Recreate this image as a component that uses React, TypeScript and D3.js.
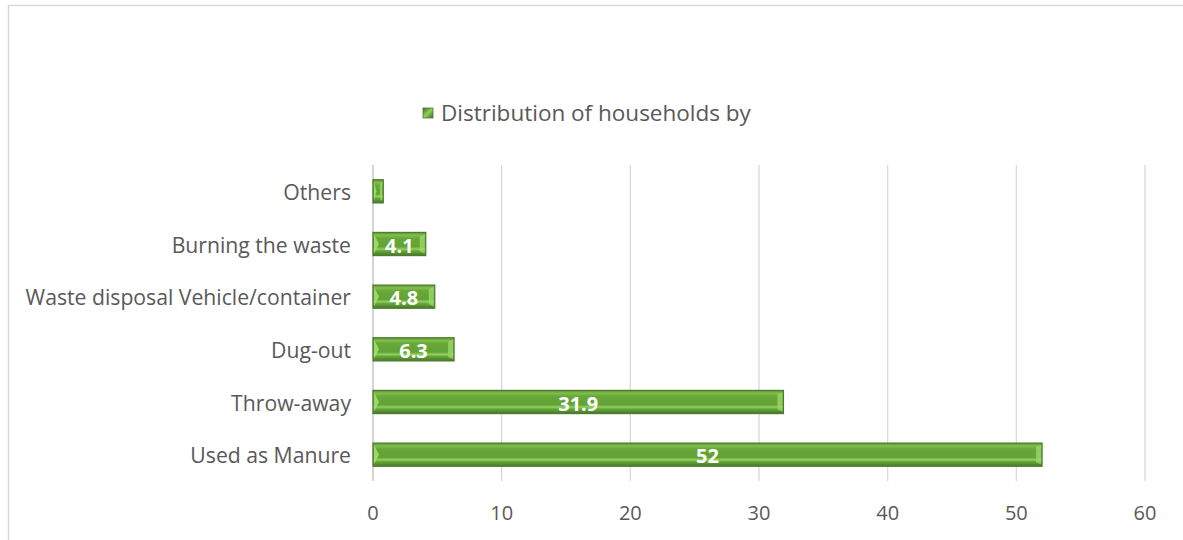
import React from "react";
import * as d3 from "d3";

const categories = [
  "Others",
  "Burning the waste",
  "Waste disposal Vehicle/container",
  "Dug-out",
  "Throw-away",
  "Used as Manure",
];
const values = [0.8, 4.1, 4.8, 6.3, 31.9, 52];
const labels = ["", "4.1", "4.8", "6.3", "31.9", "52"];
const xTicks = [0, 10, 20, 30, 40, 50, 60];
const legendLabel = "Distribution of households by";

const W = 1183;
const H = 540;
const FONT = "'Open Sans', sans-serif";

export default function App() {
  const x = d3.scaleLinear().domain([0, 60]).range([373, 1145]);
  const y = d3
    .scaleBand<string>()
    .domain(categories)
    .range([165, 481])
    .paddingInner(0.56)
    .paddingOuter(0.28);
  const bw = y.bandwidth();

  return (
    <svg
      width={W}
      height={H}
      style={{ position: "absolute", left: 0, top: 0, background: "#fff" }}
    >
      <defs>
        <linearGradient id="barG" x1="0" y1="0" x2="0" y2="1">
          <stop offset="0%" stopColor="#5a9433" />
          <stop offset="12%" stopColor="#80bf4a" />
          <stop offset="25%" stopColor="#68a83a" />
          <stop offset="62%" stopColor="#62a236" />
          <stop offset="72%" stopColor="#92d260" />
          <stop offset="80%" stopColor="#66a639" />
          <stop offset="100%" stopColor="#47782a" />
        </linearGradient>
        <linearGradient id="legG" x1="0" y1="0" x2="1" y2="1">
          <stop offset="0%" stopColor="#3f6e25" />
          <stop offset="50%" stopColor="#8fd05a" />
          <stop offset="100%" stopColor="#3f6e25" />
        </linearGradient>
      </defs>

      {/* chart frame */}
      <path d="M8.5,540 L8.5,5.5 L1183,5.5" fill="none" stroke="#d9d9d9" strokeWidth={1.5} />

      {/* legend */}
      <rect x={423} y={108} width={10} height={10} fill="url(#legG)" stroke="#4d7a30" strokeWidth={0.8} />
      <text x={441} y={112.5} dominantBaseline="central" fontFamily={FONT} fontSize={22.5} fill="#595959">
        {legendLabel}
      </text>

      {/* gridlines */}
      {xTicks.map((t) => (
        <line
          key={"g" + t}
          x1={x(t)}
          x2={x(t)}
          y1={165}
          y2={481}
          stroke={t === 0 ? "#bfbfbf" : "#d9d9d9"}
          strokeWidth={1.3}
        />
      ))}

      {/* tick labels */}
      {xTicks.map((t) => (
        <text
          key={"t" + t}
          x={x(t)}
          y={512}
          textAnchor="middle"
          dominantBaseline="central"
          fontFamily={FONT}
          fontSize={20}
          fill="#595959"
        >
          {t}
        </text>
      ))}

      {/* category labels */}
      {categories.map((c) => (
        <text
          key={"c" + c}
          x={351}
          y={(y(c) as number) + bw / 2}
          textAnchor="end"
          dominantBaseline="central"
          fontFamily={FONT}
          fontSize={21.2}
          fill="#595959"
        >
          {c}
        </text>
      ))}

      {/* bars */}
      {categories.map((c, i) => {
        const y0 = y(c) as number;
        const x0 = x(0);
        const x1 = x(values[i]);
        const w = x1 - x0;
        const b = Math.min(6, w / 3);
        return (
          <g key={"b" + c}>
            <rect x={x0} y={y0} width={w} height={bw} fill="url(#barG)" stroke="#4d7a30" strokeWidth={1.2} />
            <polygon
              points={`${x0 + 1},${y0 + 2} ${x0 + b},${y0 + bw / 2} ${x0 + 1},${y0 + bw - 2}`}
              fill="#a6e070"
              opacity={0.85}
            />
            <polygon
              points={`${x1 - 1},${y0 + 2} ${x1 - b},${y0 + 4} ${x1 - b},${y0 + bw - 4} ${x1 - 1},${y0 + bw - 2}`}
              fill="#9ad866"
              opacity={0.8}
            />
            {labels[i] && (
              <text
                x={(x0 + x1) / 2}
                y={y0 + bw / 2 + 1}
                textAnchor="middle"
                dominantBaseline="central"
                fontFamily={FONT}
                fontWeight="bold"
                fontSize={20}
                fill="#ffffff"
              >
                {labels[i]}
              </text>
            )}
          </g>
        );
      })}
    </svg>
  );
}
